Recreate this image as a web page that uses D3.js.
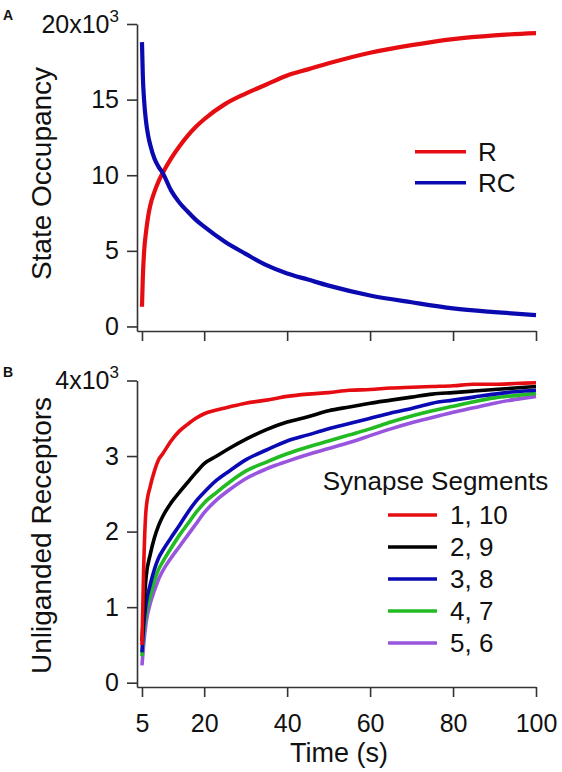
<!DOCTYPE html>
<html>
<head>
<meta charset="utf-8">
<script src="https://cdn.jsdelivr.net/npm/d3@7"></script>
<style>
  html, body { margin: 0; padding: 0; background: #fff; }
  text { font-family: "Liberation Sans", Arial, Helvetica, sans-serif; fill: #111; }
</style>
</head>
<body>
<svg id="chart" width="562" height="772"></svg>
<script>
// ---------- Data ----------
// Panel A: state occupancy (x10^3) vs time (s)
const timeA = [5, 5.2, 5.5, 6, 6.5, 7, 8, 9, 10, 12, 14, 16, 18, 20, 25, 30, 35, 40, 45, 50, 60, 70, 80, 90, 100];
const valuesR  = [1.3, 3.2, 4.9, 6.3, 7.3, 8.0, 8.9, 9.6, 10.15, 11.1, 11.9, 12.6, 13.2, 13.7, 14.7, 15.4, 16.0, 16.6, 17.0, 17.4, 18.1, 18.6, 19.0, 19.25, 19.4];
const valuesRC = [18.8, 16.6, 15.0, 13.5, 12.6, 12.0, 11.1, 10.55, 10.15, 9.0, 8.2, 7.6, 7.05, 6.6, 5.6, 4.8, 4.05, 3.5, 3.1, 2.7, 2.05, 1.6, 1.2, 0.95, 0.75];
const seriesA = ["R", "RC"];

// Panel B: unliganded receptors (x10^3) vs time (s)
const timeB = [5, 5.4, 6, 7, 8, 9, 10, 12, 14, 16, 18, 20, 23, 26, 30, 35, 40, 45, 50, 55, 60, 65, 70, 75, 80, 85, 90, 95, 100];
const seg1_10 = [0.5, 1.5, 2.3, 2.6, 2.8, 2.95, 3.03, 3.2, 3.33, 3.42, 3.5, 3.56, 3.61, 3.65, 3.70, 3.74, 3.79, 3.82, 3.84, 3.87, 3.88, 3.90, 3.91, 3.92, 3.93, 3.95, 3.95, 3.96, 3.97];
const seg2_9  = [0.55, 0.95, 1.4, 1.7, 1.92, 2.08, 2.2, 2.38, 2.52, 2.65, 2.78, 2.9, 3.0, 3.1, 3.22, 3.35, 3.45, 3.52, 3.6, 3.65, 3.7, 3.74, 3.78, 3.82, 3.84, 3.86, 3.88, 3.9, 3.92];
const seg3_8  = [0.4, 0.75, 1.05, 1.3, 1.5, 1.65, 1.75, 1.92, 2.08, 2.25, 2.4, 2.52, 2.68, 2.8, 2.95, 3.08, 3.2, 3.28, 3.36, 3.43, 3.5, 3.57, 3.63, 3.7, 3.74, 3.78, 3.82, 3.85, 3.87];
const seg4_7  = [0.35, 0.65, 0.92, 1.15, 1.35, 1.5, 1.6, 1.78, 1.95, 2.1, 2.25, 2.38, 2.52, 2.65, 2.8, 2.92, 3.03, 3.12, 3.2, 3.28, 3.36, 3.45, 3.53, 3.6, 3.66, 3.72, 3.77, 3.8, 3.83];
const seg5_6  = [0.23, 0.5, 0.8, 1.05, 1.22, 1.37, 1.48, 1.65, 1.8, 1.95, 2.1, 2.25, 2.42, 2.55, 2.7, 2.83, 2.93, 3.02, 3.1, 3.18, 3.27, 3.36, 3.44, 3.51, 3.58, 3.64, 3.7, 3.75, 3.79];
const segmentLabels = ["1, 10", "2, 9", "3, 8", "4, 7", "5, 6"];

// Axis ticks
const xTicks = [5, 20, 40, 60, 80, 100];
const yTicksA = [0, 5, 10, 15, 20];
const yTicksB = [0, 1, 2, 3, 4];

// ---------- Drawing ----------
const svg = d3.select("#chart");
svg.append("rect").attr("width", 562).attr("height", 772).attr("fill", "#fff");

const colorsA = {R: "#e60d12", RC: "#0a0ab0"};
const colorsB = ["#e60d12", "#000000", "#0a0ab4", "#22bb22", "#9955dd"];
const axisColor = "#333";
const tickFont = 25;

const xA = d3.scaleLinear().domain([3.8, 100]).range([137, 536]);
const yA = d3.scaleLinear().domain([-0.3, 20]).range([331, 24]);
const xB = d3.scaleLinear().domain([3.8, 100]).range([137, 536]);
const yB = d3.scaleLinear().domain([-0.057, 4]).range([687, 380.5]);

function styleAxis(g) {
  g.selectAll("path.domain").attr("stroke", axisColor).attr("stroke-width", 1.6);
  g.selectAll(".tick line").attr("stroke", axisColor).attr("stroke-width", 1.6);
  g.selectAll(".tick text").attr("font-size", tickFont).attr("fill", "#111")
    .attr("font-family", '"Liberation Sans", Arial, sans-serif');
}

function yAxis(scale, ticks, top, base) {
  const g = svg.append("g").attr("transform", "translate(137,0)")
    .call(d3.axisLeft(scale).tickValues(ticks).tickSize(10).tickPadding(8).tickSizeOuter(0)
      .tickFormat(d => d === top ? "" : d3.format("d")(d)));
  styleAxis(g);
  g.selectAll(".tick").filter(d => d === top).select("text")
    .each(function() {
      const t = d3.select(this);
      t.append("tspan").text(base + "x10");
      t.append("tspan").attr("font-size", 17).attr("dy", "-0.62em").text("3");
    });
  return g;
}

function xAxis(scale, yPos, labels) {
  const g = svg.append("g").attr("transform", `translate(0,${yPos})`)
    .call(d3.axisBottom(scale).tickValues(xTicks).tickSize(10).tickPadding(17).tickSizeOuter(0)
      .tickFormat(labels ? d3.format("d") : () => ""));
  styleAxis(g);
  return g;
}

yAxis(yA, yTicksA, 20, "20");
xAxis(xA, 331, false);
yAxis(yB, yTicksB, 4, "4");
xAxis(xB, 687, true);

// Panel A curves
const lineA = d3.line().x(d => xA(d[0])).y(d => yA(d[1])).curve(d3.curveMonotoneX);
const dataA = {R: timeA.map((t, i) => [t, valuesR[i]]), RC: timeA.map((t, i) => [t, valuesRC[i]])};
seriesA.forEach(s => {
  svg.append("path").datum(dataA[s]).attr("d", lineA)
    .attr("fill", "none").attr("stroke", colorsA[s]).attr("stroke-width", 4.2)
    .attr("stroke-linejoin", "round");
});

// Panel B curves
const lineB = d3.line().x(d => xB(d[0])).y(d => yB(d[1])).curve(d3.curveMonotoneX);
const segs = [seg1_10, seg2_9, seg3_8, seg4_7, seg5_6];
for (let k = segs.length - 1; k >= 0; k--) {
  svg.append("path").datum(timeB.map((t, i) => [t, segs[k][i]])).attr("d", lineB)
    .attr("fill", "none").attr("stroke", colorsB[k]).attr("stroke-width", 3.6)
    .attr("stroke-linejoin", "round");
}

// Legend A
const legA = svg.append("g");
seriesA.forEach((s, i) => {
  const y = 151.7 + i * 31;
  legA.append("line").attr("x1", 415).attr("x2", 466).attr("y1", y).attr("y2", y)
    .attr("stroke", colorsA[s]).attr("stroke-width", 3.5);
  legA.append("text").attr("x", 478).attr("y", y).attr("dy", "0.36em")
    .attr("font-size", 26).text(s);
});

// Legend B
const legB = svg.append("g");
legB.append("text").attr("x", 322.7).attr("y", 490).attr("font-size", 26).text("Synapse Segments");
segmentLabels.forEach((s, i) => {
  const y = 515 + i * 32;
  legB.append("line").attr("x1", 388).attr("x2", 437).attr("y1", y).attr("y2", y)
    .attr("stroke", colorsB[i]).attr("stroke-width", 3.5);
  legB.append("text").attr("x", 450).attr("y", y).attr("dy", "0.36em")
    .attr("font-size", 26).text(s);
});

// Axis titles
svg.append("text").attr("transform", "translate(51,173.5) rotate(-90)")
  .attr("text-anchor", "middle").attr("font-size", 28).text("State Occupancy");
svg.append("text").attr("transform", "translate(51,535.5) rotate(-90)")
  .attr("text-anchor", "middle").attr("font-size", 28).text("Unliganded Receptors");
svg.append("text").attr("x", 339).attr("y", 762)
  .attr("text-anchor", "middle").attr("font-size", 27).text("Time (s)");

// Panel labels
svg.append("text").attr("x", 3).attr("y", 20).attr("font-size", 14).attr("font-weight", "bold").text("A");
svg.append("text").attr("x", 3).attr("y", 377).attr("font-size", 14).attr("font-weight", "bold").text("B");
</script>
</body>
</html>
